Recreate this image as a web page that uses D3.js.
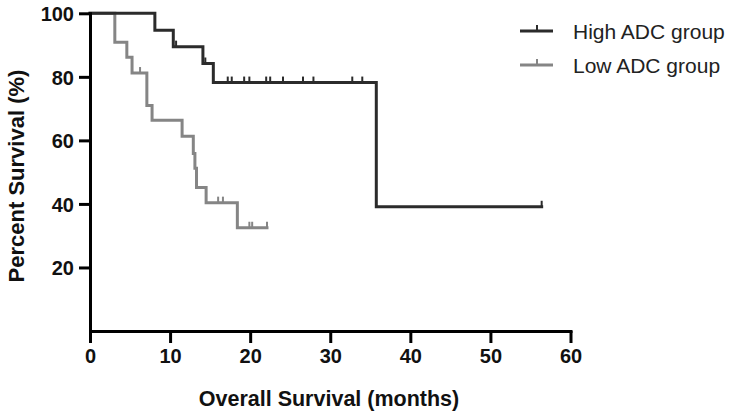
<!DOCTYPE html>
<html>
<head>
<meta charset="utf-8">
<script src="https://cdn.jsdelivr.net/npm/d3@7"></script>
<style>
  html, body { margin: 0; padding: 0; background: #fff; }
  svg { display: block; }
  text { font-family: Arial, "Liberation Sans", Helvetica, sans-serif; }
</style>
</head>
<body>
<svg id="chart" width="735" height="415"></svg>
<script>
// ---- Data ----
const seriesNames = ["High ADC group", "Low ADC group"];

const highTimes = [0, 8.1, 10.4, 14.1, 15.4, 35.75, 56.4];
const highSurv  = [100, 94.7, 89.5, 84.2, 78.2, 39.1, 39.1];
const highCensor = [10.75, 14.4, 17.2, 17.7, 19.25, 19.9, 22.0, 22.5, 24.1, 26.6, 27.9, 32.75, 34.0, 56.4];

const lowTimes = [0, 3.1, 4.6, 5.25, 7.1, 7.75, 11.5, 12.9, 13.1, 13.3, 14.5, 18.4, 22.1];
const lowSurv  = [100, 90.9, 86.2, 81.2, 71.0, 66.3, 61.3, 55.9, 51.2, 45.2, 40.4, 32.5, 32.5];
const lowCensor = [6.25, 16.0, 16.6, 19.9, 20.25, 22.1];

const xTicks = [0, 10, 20, 30, 40, 50, 60];
const yTicks = [20, 40, 60, 80, 100];

const xTitle = "Overall Survival (months)";
const yTitle = "Percent Survival (%)";

// ---- Layout ----
const svg = d3.select("#chart");
const colors = ["#2b2b2b", "#858585"];

const x = d3.scaleLinear().domain([0, 60]).range([90, 570.5]);
const y = d3.scaleLinear().domain([0, 100]).range([331, 13.3]);

// step value at time t
function survAt(times, surv, t) {
  let v = surv[0];
  for (let i = 0; i < times.length; i++) { if (times[i] <= t) v = surv[i]; }
  return v;
}

const line = d3.line()
  .x(d => x(d[0])).y(d => y(d[1]))
  .curve(d3.curveStepAfter);

const series = [
  { times: highTimes, surv: highSurv, censor: highCensor, color: colors[0] },
  { times: lowTimes,  surv: lowSurv,  censor: lowCensor,  color: colors[1] }
];

// draw low first so high sits on top at shared 100% segment
[series[1], series[0]].forEach(s => {
  const pts = s.times.map((t, i) => [t, s.surv[i]]);
  svg.append("path")
    .attr("d", line(pts))
    .attr("fill", "none")
    .attr("stroke", s.color)
    .attr("stroke-width", 3)
    .attr("stroke-linejoin", "miter")
    .attr("stroke-linecap", "square");
  svg.append("g").selectAll("line")
    .data(s.censor)
    .join("line")
    .attr("x1", d => x(d)).attr("x2", d => x(d))
    .attr("y1", d => y(survAt(s.times, s.surv, d)))
    .attr("y2", d => y(survAt(s.times, s.surv, d)) - 6)
    .attr("stroke", s.color)
    .attr("stroke-width", 2);
});

// ---- Axes ----
const xAxis = d3.axisBottom(x).tickValues(xTicks).tickSize(12).tickSizeOuter(0).tickPadding(6);
const yAxis = d3.axisLeft(y).tickValues(yTicks).tickSize(11).tickSizeOuter(0).tickPadding(5);

const gx = svg.append("g").attr("transform", `translate(0,${y(0)})`).call(xAxis);
const gy = svg.append("g").attr("transform", `translate(${x(0)},0)`).call(yAxis);

[gx, gy].forEach(g => {
  g.select(".domain").attr("stroke", "#000").attr("stroke-width", 3).attr("stroke-linecap", "square");
  g.selectAll(".tick line").attr("stroke", "#000").attr("stroke-width", 3);
  g.selectAll(".tick text")
    .attr("fill", "#111")
    .style("font-size", "20px")
    .style("font-weight", "bold")
    .style("font-family", "Arial, 'Liberation Sans', sans-serif");
});
gx.selectAll(".tick text").attr("dy", "0.71em");
gy.selectAll(".tick text").attr("dy", "0.36em");

// ---- Titles ----
svg.append("text")
  .attr("x", 329).attr("y", 406)
  .attr("text-anchor", "middle")
  .style("font-size", "21.5px").style("font-weight", "bold").attr("fill", "#111")
  .text(xTitle);

svg.append("text")
  .attr("transform", "translate(24,176) rotate(-90)")
  .attr("text-anchor", "middle")
  .style("font-size", "22px").style("font-weight", "bold").attr("fill", "#111")
  .text(yTitle);

// ---- Legend ----
const legend = svg.append("g");
const legendY = [31, 65];
seriesNames.forEach((name, i) => {
  const g = legend.append("g").attr("transform", `translate(0,${legendY[i]})`);
  g.append("line").attr("x1", 520).attr("x2", 553).attr("y1", 0).attr("y2", 0)
    .attr("stroke", colors[i]).attr("stroke-width", 3);
  g.append("line").attr("x1", 537).attr("x2", 537).attr("y1", 0).attr("y2", -6)
    .attr("stroke", colors[i]).attr("stroke-width", 2);
  g.append("text").attr("x", 573).attr("y", 7.5)
    .style("font-size", "21px").attr("fill", "#222")
    .text(name);
});
</script>
</body>
</html>
